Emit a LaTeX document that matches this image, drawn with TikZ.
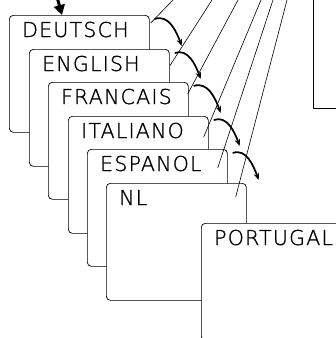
\documentclass[tikz,border=0pt]{standalone}
\usepackage{fontspec}
\usetikzlibrary{arrows.meta}
\IfFontExistsTF{DejaVu Sans ExtraLight}
  {\newfontfamily\plotfont[LetterSpace=6, FakeBold=1.2]{DejaVu Sans ExtraLight}}
  {\newfontfamily\plotfont[LetterSpace=6]{DejaVu Sans}}

\begin{document}
\begin{tikzpicture}[
    x=1pt, y=-1pt,
    card/.style={rectangle, draw, fill=white, rounded corners=4pt, line width=0.7pt,
      minimum width=140pt, minimum height=117pt, anchor=north west, inner sep=0pt},
    lang/.style={anchor=base west, inner sep=0pt, font=\plotfont\fontsize{20.5}{20.5}\selectfont},
    turn/.style={-{Stealth[length=7pt, width=5.5pt]}, line width=1.7pt},
    ray/.style={line width=0.6pt}
  ]
  \useasboundingbox (0,0) rectangle (336,338);
  \clip (0,0) rectangle (336,338);

  % language cards, back to front
  \foreach \name/\x/\y/\txt in {de/9/15/DEUTSCH, en/29/49/ENGLISH, fr/48/82/FRANCAIS,
      it/68/116/ITALIANO, es/87/149/ESPANOL, nl/106/183/NL, pt/201/223/PORTUGAL} {
    \node[card] (\name) at (\x,\y) {};
    \node[lang] (t\name) at ([shift={(13,22)}]\name.north west) {\txt};
  }

  % panel at the top right
  \node[draw, line width=1.2pt, minimum width=60pt, minimum height=140pt,
    anchor=south west, inner sep=0pt] (panel) at (313,109) {};

  % entry arrow
  \coordinate (drop) at (57,-3);
  \draw[-{Triangle[length=10pt, width=11pt]}, line width=3pt] (drop) -- ([xshift=53]de.north west);

  % rays from the top edge
  \foreach \name/\tx/\dx/\dy in {de/173/1/8, en/212/0/17, fr/238/-1/12,
      it/261/-5/21, es/273/-10/19, nl/287/-11/14} {
    \coordinate (top-\name) at (\tx,0);
    \draw[ray] (top-\name) -- ([shift={(\dx,\dy)}]\name.north east);
  }

  % paging arrows
  \foreach \a/\b in {de/en, en/fr, fr/it, it/es, es/nl}
    \draw[turn] ([shift={(5,4)}]\a.north east) to[out=20, in=110] ([shift={(12,-3)}]\b.north east);
\end{tikzpicture}
\end{document}
